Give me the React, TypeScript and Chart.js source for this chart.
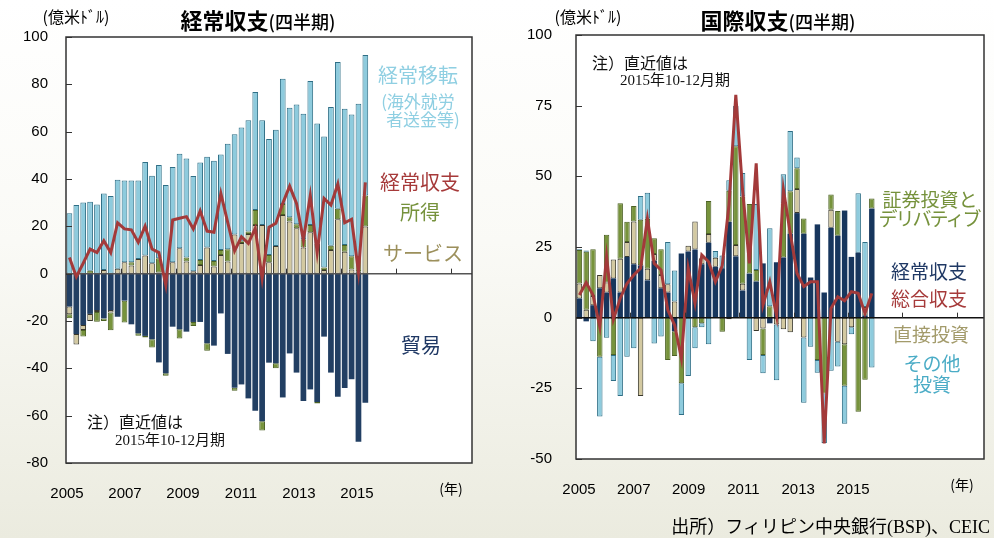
import React, { useEffect, useRef } from "react";
import { Chart, registerables } from "chart.js";

Chart.register(...registerables);

// ---------- categories / ticks ----------
const YEARS = [2005, 2006, 2007, 2008, 2009, 2010, 2011, 2012, 2013, 2014, 2015, 2016, 2017, 2018, 2019];
const QUARTERS = ["Q1", "Q2", "Q3", "Q4"];
const YEAR_TICKS = [2005, 2007, 2009, 2011, 2013, 2015];

// ---------- left panel: 経常収支 (2005Q1–2015Q4) ----------
const trade = [-13.9, -25.5, -21.7, -17.0, -15.4, -18.9, -15.4, -18.2, -11.4, -21.4, -25.2, -26.3, -27.7, -37.5, -42.1, -22.4, -23.5, -24.5, -20.4, -20.4, -29.4, -30.4, -16.8, -33.9, -48.2, -46.8, -52.7, -57.9, -62.4, -37.6, -37.9, -52.3, -33.7, -41.8, -53.8, -48.9, -54.2, -26.6, -41.8, -52.0, -48.3, -44.6, -71.0, -54.5];
const services = [-3.2, -4.4, -2.1, -3.0, -0.8, 1.5, -1.0, 2.1, 4.8, 3.4, 6.2, 7.7, 4.4, 0.5, 0, 4.8, 10.7, 5.1, 1.0, 3.7, 11.1, 3.0, 7.9, 5.1, 16.5, 13.0, 16.8, 20.6, 20.6, 4.8, 11.7, 24.8, 22.0, 19.2, 11.1, 17.5, 12.8, 1.5, 10.0, 23.0, 9.3, 1.8, 1.0, 19.9];
const income = [-1.7, 0, -2.8, 1.2, -4.1, -1.1, -7.5, 0, -9.2, 1.4, -1.0, -0.7, -3.5, 6.0, -1.0, 0, -3.9, 1.7, -1.7, 2.1, -3.2, 2.4, 2.1, 5.2, -1.3, 0.7, 1.0, 6.3, -3.9, 3.1, -2.1, 4.6, 1.8, 1.7, 3.4, 3.1, -0.7, 1.1, 1.8, 4.4, 2.8, 5.6, 6.0, 13.1];
const transfers = [25.5, 29.0, 30.1, 29.2, 29.2, 32.4, 32.8, 37.6, 34.6, 34.6, 33.2, 39.5, 37.0, 39.4, 37.5, 40.3, 40.0, 41.9, 40.3, 41.2, 38.3, 42.3, 40.4, 44.6, 42.4, 48.1, 47.0, 49.9, 44.2, 49.0, 49.1, 53.0, 46.3, 50.6, 53.1, 60.8, 50.6, 55.4, 58.6, 62.0, 57.6, 59.9, 64.8, 59.4];
const currentAccount = [6.8, -1.3, 4.4, 10.4, 8.9, 13.9, 8.9, 21.5, 18.9, 18.5, 13.2, 20.1, 10.4, 8.9, -4.8, 22.7, 23.4, 24.1, 18.9, 26.5, 18.0, 17.5, 33.9, 21.7, 9.6, 15.6, 12.8, 19.2, -2.0, 19.6, 21.3, 29.7, 37.0, 29.7, 14.2, 33.0, 8.9, 31.8, 29.0, 37.9, 21.5, 23.0, 0.8, 38.6];

// ---------- right panel: 国際収支 ----------
const directInv = [5.3, 2.8, 3.3, 4.7, 3.5, 6.7, 11.9, 5.3, 15.1, -27.7, 4.1, 2.4, 4.7, 2.9, 5.7, 0, 2.0, 9.9, 2.1, 3.1, 3.2, 0, -0.6, 4.0, 2.4, 0, -4.7, -3.8, 0, -2.4, -4.1, -5.2, 8.5, -7.0, 0, 0, 0, 6.4, -8.5, -9.4, -3.4, 0, 3.0, 0];
const portfolioInv = [11.8, 20.5, 16.5, -13.8, 16.9, -13.2, 19.7, 7.1, 5.5, 16.1, 17.7, 5.6, 9.1, -15.0, -8.8, -23.2, 0, -3.4, -2.0, 11.7, 0, -5.0, 11.0, 34.9, 30.9, 24.6, 4.1, -9.4, 4.0, 0, 19.1, 15.0, 7.4, 5.4, 0, -15.0, -26.8, 5.4, 8.7, -14.7, 0, -33.3, -22.0, 3.6];
const otherInv = [0.3, 0.5, -8.3, -21.2, -7.1, -9.2, -27.7, -13.8, -10.8, 8.4, 9.2, -9.1, -6.7, 15.0, 11.0, -11.2, -20.6, -7.4, -1.4, -9.4, 2.4, 4.5, 3.7, 14.3, 8.3, -15.0, 23.3, -6.5, 27.6, -19.7, 10.3, 21.3, 3.8, -23.1, -10.3, -4.5, -17.5, -18.8, -8.8, -13.4, -2.5, 21.0, 23.0, -17.6];
const overallBalance = [8.0, 12.4, 8.0, -3.2, 21.6, -0.6, 6.8, 12.1, 15.1, 17.5, 35.0, 19.2, 16.9, 2.7, -2.6, -14.4, 17.5, 5.1, 22.2, 19.8, 12.7, 18.3, 40.0, 78.8, 45.0, 19.2, 54.6, 4.5, 12.7, 0.6, 45.4, 30.0, 15.7, 11.0, 12.7, 12.7, -44.5, 3.3, 7.4, 6.0, 9.2, 8.6, 1.5, 8.6];

// ---------- styling ----------
const NUM_FONT = "'Liberation Sans', Arial, sans-serif";
const CJK_FONT = "'Noto Sans CJK JP', 'Noto Sans', sans-serif";
const SERIF_FONT = "'Liberation Serif', 'Noto Sans CJK JP', serif";

const C = {
  lightBlue: "#8ecbdd",
  lightBlueEdge: "#2f6f86",
  green: "#77933c",
  greenEdge: "#4c6224",
  tan: "#d3c9a1",
  tanEdge: "#3a382c",
  navy: "#223f63",
  navyR: "#17365d",
  red: "#a33a3a",
};

function quarterSlots(count: number): string[] {
  const out: string[] = [];
  YEARS.forEach((y) => QUARTERS.forEach((q) => out.push(`${y}${q}`)));
  return out.slice(0, count);
}

const nz = (arr: number[]) => arr.map((v) => (v === 0 ? null : v));

const panelDeco = {
  id: "panelDeco",
  beforeDraw(chart: any) {
    const { ctx, chartArea: a } = chart;
    ctx.save();
    ctx.fillStyle = "#ffffff";
    ctx.fillRect(a.left, a.top, a.right - a.left, a.bottom - a.top);
    ctx.restore();
  },
  beforeDatasetDraw(chart: any, args: any, opts: any) {
    if (args.meta.type !== "line") return;
    const { ctx, chartArea: a } = chart;
    const y0 = chart.scales.y.getPixelForValue(0);
    ctx.save();
    ctx.strokeStyle = opts.zeroColor || "#444";
    ctx.lineWidth = 1.5;
    ctx.beginPath();
    ctx.moveTo(a.left, y0);
    ctx.lineTo(a.right, y0);
    ctx.stroke();
    ctx.restore();
  },
  afterDraw(chart: any, _args: any, opts: any) {
    const { ctx, chartArea: a } = chart;
    const xs = chart.scales.x;
    const ys = chart.scales.y;
    const y0 = ys.getPixelForValue(0);
    const step = xs.getPixelForValue(1) - xs.getPixelForValue(0);
    const n = xs.getLabels().length;
    ctx.save();
    ctx.strokeStyle = opts.tickColor || "#333";
    ctx.lineWidth = 1;
    for (let k = 8; k < n; k += 8) {
      const px = Math.round(xs.getPixelForValue(k) - step / 2) + 0.5;
      ctx.beginPath();
      ctx.moveTo(px, y0);
      ctx.lineTo(px, y0 - 5);
      ctx.stroke();
    }
    ys.ticks.forEach((t: any) => {
      const py = Math.round(ys.getPixelForValue(t.value)) + 0.5;
      ctx.beginPath();
      ctx.moveTo(a.left, py);
      ctx.lineTo(a.left + 6, py);
      ctx.stroke();
    });
    ctx.strokeStyle = opts.frameColor || "#333";
    ctx.lineWidth = 1.5;
    ctx.strokeRect(a.left, a.top, a.right - a.left, a.bottom - a.top);
    ctx.restore();
  },
};

function barDs(label: string, data: number[], bg: string, edge: string, bw: number, barPct: number) {
  return {
    type: "bar" as const,
    label,
    data: nz(data),
    backgroundColor: bg,
    borderColor: edge,
    borderWidth: bw,
    borderSkipped: false,
    stack: "bars",
    xAxisID: "x",
    yAxisID: "y",
    order: 1,
    barPercentage: barPct,
    categoryPercentage: 1,
  };
}

function lineDs(label: string, data: number[]) {
  return {
    type: "line" as const,
    label,
    data,
    borderColor: C.red,
    borderWidth: 3,
    pointRadius: 0,
    tension: 0,
    fill: false,
    stack: "line",
    xAxisID: "x",
    yAxisID: "y",
    order: 0,
  };
}

function makeConfig(p: {
  slots: number;
  datasets: any[];
  yMin: number;
  yMax: number;
  yStep: number;
  yWidth: number;
  yPad: number;
  xHeight: number;
  padTop: number;
  padRight: number;
  yrMin: number;
  yrMax: number;
  zeroColor: string;
}) {
  return {
    data: { labels: quarterSlots(p.slots), datasets: p.datasets },
    plugins: [panelDeco],
    options: {
      animation: false,
      responsive: false,
      maintainAspectRatio: false,
      events: [],
      layout: { padding: { top: p.padTop, right: p.padRight, bottom: 0, left: 0 } },
      plugins: {
        legend: { display: false },
        tooltip: { enabled: false },
        panelDeco: { zeroColor: p.zeroColor, tickColor: "#333", frameColor: "#333" },
      },
      scales: {
        x: { type: "category", display: false, stacked: true, offset: true },
        yr: {
          type: "linear",
          position: "bottom",
          min: p.yrMin,
          max: p.yrMax,
          grid: { display: false, drawTicks: false },
          border: { display: false },
          afterBuildTicks: (s: any) => {
            s.ticks = YEAR_TICKS.map((v) => ({ value: v }));
          },
          afterFit: (s: any) => {
            s.height = p.xHeight;
          },
          ticks: {
            autoSkip: false,
            maxRotation: 0,
            padding: 22,
            color: "#000",
            font: { family: NUM_FONT, size: 15 },
            callback: (v: any) => String(v),
          },
        },
        y: {
          type: "linear",
          stacked: true,
          min: p.yMin,
          max: p.yMax,
          grid: { display: false, drawTicks: false },
          border: { display: false },
          afterFit: (s: any) => {
            s.width = p.yWidth;
          },
          ticks: {
            stepSize: p.yStep,
            padding: p.yPad,
            color: "#000",
            font: { family: NUM_FONT, size: 15 },
          },
        },
      },
    },
  };
}

type TxtProps = { x: number; y: number; children: React.ReactNode; style?: React.CSSProperties; align?: "center" | "left" | "right" };
function Txt({ x, y, children, style, align = "center" }: TxtProps) {
  const tx = align === "center" ? "-50%" : align === "left" ? "0" : "-100%";
  return (
    <div
      style={{
        position: "absolute",
        left: x,
        top: y,
        transform: `translate(${tx}, -50%)`,
        whiteSpace: "nowrap",
        lineHeight: 1,
        fontFamily: CJK_FONT,
        ...style,
      }}
    >
      {children}
    </div>
  );
}

export default function App() {
  const leftRef = useRef<HTMLCanvasElement>(null);
  const rightRef = useRef<HTMLCanvasElement>(null);

  useEffect(() => {
    const left = new Chart(
      leftRef.current as HTMLCanvasElement,
      makeConfig({
        slots: 59,
        datasets: [
          lineDs("経常収支", currentAccount),
          barDs("貿易", trade, C.navy, C.navy, 0, 0.83),
          barDs("サービス", services, C.tan, C.tanEdge, 1, 0.83),
          barDs("所得", income, C.green, C.greenEdge, 1, 0.83),
          barDs("経常移転", transfers, C.lightBlue, C.lightBlueEdge, 1, 0.83),
        ],
        yMin: -80,
        yMax: 100,
        yStep: 20,
        yWidth: 66,
        yPad: 18,
        xHeight: 75,
        padTop: 37,
        padRight: 25,
        yrMin: 2004.9655,
        yrMax: 2018.966,
        zeroColor: "#555",
      }) as any
    );
    const right = new Chart(
      rightRef.current as HTMLCanvasElement,
      makeConfig({
        slots: 60,
        datasets: [
          lineDs("総合収支", overallBalance),
          barDs("経常収支", currentAccount, C.navyR, C.navyR, 0, 0.8),
          barDs("直接投資", directInv, C.tan, C.tanEdge, 1, 0.8),
          barDs("証券投資とデリバティブ", portfolioInv, C.green, C.greenEdge, 1, 0.8),
          barDs("その他投資", otherInv, C.lightBlue, C.lightBlueEdge, 1, 0.8),
        ],
        yMin: -50,
        yMax: 100,
        yStep: 25,
        yWidth: 79,
        yPad: 24,
        xHeight: 79,
        padTop: 35,
        padRight: 10,
        yrMin: 2004.8905,
        yrMax: 2019.781,
        zeroColor: "#111",
      }) as any
    );
    return () => {
      left.destroy();
      right.destroy();
    };
  }, []);

  const legend = { fontSize: 20 };
  const legendR = { fontSize: 19 };
  const note1 = { fontSize: 16, color: "#111" };
  const note2 = { fontSize: 15, fontFamily: SERIF_FONT, color: "#111" };

  return (
    <div
      style={{
        position: "absolute",
        left: 0,
        top: 0,
        width: 994,
        height: 538,
        overflow: "hidden",
        background: "linear-gradient(180deg, #ffffff 0%, #fafaf6 45%, #ebebdf 100%)",
      }}
    >
      <canvas ref={leftRef} width={497} height={538} style={{ position: "absolute", left: 0, top: 0, width: 497, height: 538 }} />
      <canvas ref={rightRef} width={497} height={538} style={{ position: "absolute", left: 497, top: 0, width: 497, height: 538 }} />

      {/* titles */}
      <Txt x={258} y={19} style={{ color: "#000" }}>
        <span style={{ fontSize: 22, fontWeight: 700 }}>経常収支</span>
        <span style={{ fontSize: 18, fontWeight: 500 }}>(四半期)</span>
      </Txt>
      <Txt x={778} y={19} style={{ color: "#000" }}>
        <span style={{ fontSize: 22, fontWeight: 700 }}>国際収支</span>
        <span style={{ fontSize: 18, fontWeight: 500 }}>(四半期)</span>
      </Txt>
      <Txt x={76} y={16} style={{ fontSize: 16, color: "#000" }}>(億米ﾄﾞﾙ)</Txt>
      <Txt x={588} y={16} style={{ fontSize: 16, color: "#000" }}>(億米ﾄﾞﾙ)</Txt>

      {/* year unit */}
      <Txt x={451} y={488} style={{ fontSize: 14, color: "#000" }}>(年)</Txt>
      <Txt x={962} y={484} style={{ fontSize: 14, color: "#000" }}>(年)</Txt>

      {/* left legend */}
      <Txt x={418} y={75} style={{ ...legend, color: "#8fcfe2" }}>経常移転</Txt>
      <Txt x={418} y={100} style={{ fontSize: 17, color: "#8fcfe2" }}>(海外就労</Txt>
      <Txt x={423} y={118} style={{ fontSize: 17, color: "#8fcfe2" }}>者送金等)</Txt>
      <Txt x={420} y={182} style={{ ...legend, color: "#a63a3a" }}>経常収支</Txt>
      <Txt x={420} y={212} style={{ ...legend, color: "#76923c" }}>所得</Txt>
      <Txt x={423} y={253} style={{ ...legend, color: "#9c905c" }}>サービス</Txt>
      <Txt x={421} y={345} style={{ ...legend, color: "#1f3864" }}>貿易</Txt>

      {/* right legend */}
      <Txt x={930} y={198} style={{ ...legendR, color: "#76923c" }}>証券投資と</Txt>
      <Txt x={929} y={217} style={{ ...legendR, color: "#76923c", letterSpacing: -2 }}>デリバティブ</Txt>
      <Txt x={929} y={270} style={{ ...legendR, color: "#1f3864" }}>経常収支</Txt>
      <Txt x={929} y={297} style={{ ...legendR, color: "#a63a3a" }}>総合収支</Txt>
      <Txt x={931} y={333} style={{ ...legendR, color: "#a39b6b" }}>直接投資</Txt>
      <Txt x={932} y={362} style={{ ...legendR, color: "#4bacc6" }}>その他</Txt>
      <Txt x={932} y={383} style={{ ...legendR, color: "#4bacc6" }}>投資</Txt>

      {/* notes */}
      <Txt x={87} y={421} align="left" style={note1}>注）直近値は</Txt>
      <Txt x={115} y={440} align="left" style={note2}>2015年10-12月期</Txt>
      <Txt x={592} y={62} align="left" style={note1}>注）直近値は</Txt>
      <Txt x={620} y={80} align="left" style={note2}>2015年10-12月期</Txt>

      {/* source */}
      <Txt x={990} y={527} align="right" style={{ fontSize: 18, fontFamily: SERIF_FONT, color: "#000" }}>
        出所）フィリピン中央銀行(BSP)、CEIC
      </Txt>
    </div>
  );
}
